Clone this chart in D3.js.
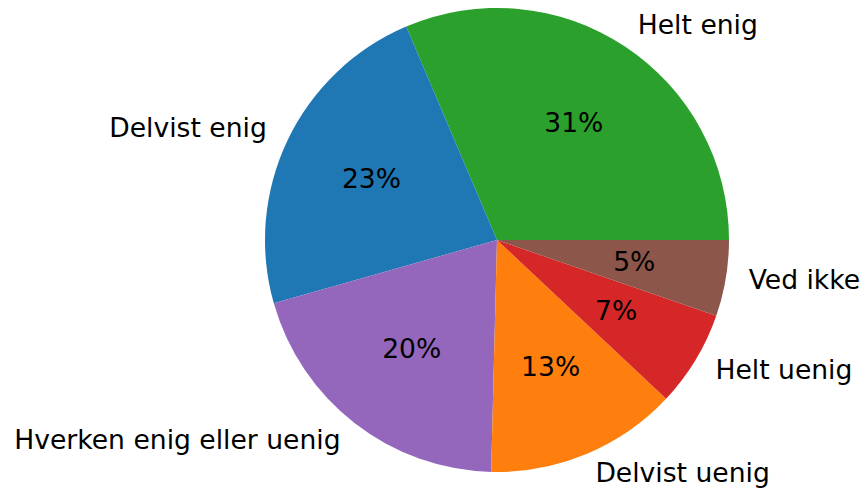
<!DOCTYPE html>
<html>
<head>
<meta charset="utf-8">
<script src="https://cdn.jsdelivr.net/npm/d3@7"></script>
<style>
  body { margin: 0; background: #fff; }
  text { font-family: "DejaVu Sans", sans-serif; }
</style>
</head>
<body>
<svg id="pie" width="867" height="493"></svg>
<script>
// answers, in drawing order (counter-clockwise from 3 o'clock)
const categories = ['Helt enig', 'Delvist enig', 'Hverken enig eller uenig', 'Delvist uenig', 'Helt uenig', 'Ved ikke'];
const shares = [31.4, 23.0, 20.2, 13.4, 6.7, 5.3];
const colors = ['#2ca02c', '#1f77b4', '#9467bd', '#ff7f0e', '#d62728', '#8c564b'];

const svg = d3.select('#pie'),
    cx = 497,
    cy = 240,
    radius = 232;

const data = categories.map(function(c, i) { return {name: c, value: shares[i], color: colors[i]}; });

// matplotlib style: start at 3 o'clock and go counter-clockwise
const pie = d3.pie()
  .sort(null)
  .value(function(d) { return d.value; })
  .startAngle(Math.PI / 2)
  .endAngle(Math.PI / 2 - 2 * Math.PI);

const arc = d3.arc().innerRadius(0).outerRadius(radius);

const g = svg.append('g').attr('transform', `translate(${cx},${cy})`);

const arcs = pie(data);

g.selectAll('path')
  .data(arcs)
  .enter().append('path')
    .attr('d', arc)
    .attr('fill', function(d) { return d.data.color; });

function mid(d) { return (d.startAngle + d.endAngle) / 2; }

// outer labels at 1.1 r
g.selectAll('text.label')
  .data(arcs)
  .enter().append('text')
    .attr('class', 'label')
    .attr('x', function(d) { return 1.1 * radius * Math.sin(mid(d)); })
    .attr('y', function(d) { return -1.1 * radius * Math.cos(mid(d)); })
    .attr('dy', '0.26em')
    .attr('text-anchor', function(d) { return Math.sin(mid(d)) > 0 ? 'start' : 'end'; })
    .style('font-size', '26.6px')
    .style('fill', '#000')
    .text(function(d) { return d.data.name; });

// percentages at 0.6 r
const fmt = function(v) { return Math.round(v) + '%'; };
g.selectAll('text.pct')
  .data(arcs)
  .enter().append('text')
    .attr('class', 'pct')
    .attr('x', function(d) { return 0.6 * radius * Math.sin(mid(d)); })
    .attr('y', function(d) { return -0.6 * radius * Math.cos(mid(d)); })
    .attr('dy', '0.3em')
    .attr('text-anchor', 'middle')
    .style('font-size', '26.6px')
    .style('fill', '#000')
    .text(function(d) { return fmt(d.data.value); });
</script>
</body>
</html>
